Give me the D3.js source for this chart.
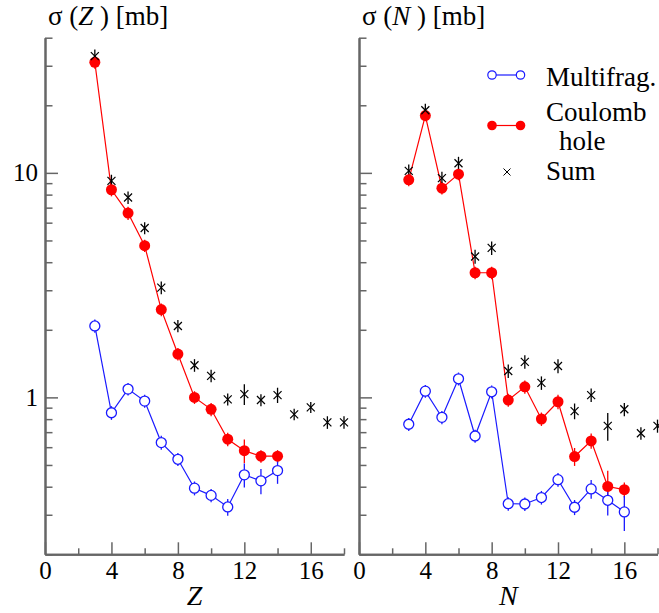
<!DOCTYPE html>
<html><head><meta charset="utf-8">
<script src="https://cdn.jsdelivr.net/npm/d3@7"></script>
<style>body{margin:0;background:#fff} svg{display:block}</style>
</head><body>
<svg id="c" width="659" height="613"></svg>
<script>
// ---- data ----
const zCats = [3,4,5,6,7,8,9,10,11,12,13,14];
const zMulti = [2.08,0.854,1.089,0.963,0.629,0.530,0.394,0.366,0.325,0.452,0.425,0.472];
const zMultiErr = [0.14,0.06,0.07,0.065,0.045,0.035,0.028,0.025,0.028,0.055,0.055,0.06];
const zCoul = [31.1,8.41,6.62,4.74,2.46,1.56,1.00,0.885,0.651,0.579,0.547,0.547];
const zCoulErr = [2.0,0.55,0.45,0.3,0.16,0.1,0.065,0.06,0.045,0.07,0.035,0.035];
const zSumCats = [3,4,5,6,7,8,9,10,11,12,13,14,15,16,17,18];
const zSum = [33.1,9.21,7.77,5.68,3.08,2.08,1.39,1.247,0.98,1.034,0.973,1.024,0.84,0.903,0.774,0.774];
const zSumErr = [2.3,0.6,0.5,0.35,0.2,0.13,0.09,0.08,0.06,0.11,0.06,0.08,0.05,0.05,0.05,0.05];

const nCats = [3,4,5,6,7,8,9,10,11,12,13,14,15,16];
const nMulti = [0.759,1.066,0.815,1.21,0.673,1.059,0.336,0.335,0.358,0.430,0.324,0.391,0.348,0.309];
const nMultiErr = [0.05,0.07,0.055,0.08,0.045,0.07,0.023,0.023,0.025,0.03,0.025,0.037,0.05,0.055];
const nCoul = [9.31,18.0,8.55,9.87,3.59,3.59,0.973,1.114,0.801,0.956,0.545,0.640,0.401,0.388];
const nCoulErr = [0.6,1.0,0.55,0.6,0.23,0.23,0.065,0.075,0.055,0.07,0.05,0.05,0.07,0.03];
const nSumCats = [3,4,5,6,7,8,9,10,11,12,13,14,15,16,17,18];
const nSum = [10.2,19.0,9.47,11.04,4.24,4.63,1.31,1.44,1.16,1.38,0.869,1.024,0.746,0.885,0.692,0.746];
const nSumErr = [0.7,1.3,0.65,0.75,0.3,0.32,0.09,0.1,0.08,0.1,0.07,0.07,0.105,0.06,0.045,0.05];

const xMajor = [0,4,8,12,16];
const xMinor = [2,6,10,14,18];
const yMajor = [1,10];
const yMinor = [0.2,0.3,0.4,0.5,0.6,0.7,0.8,0.9,2,3,4,5,6,7,8,9,20,30,40];

const legendLabels = ["Multifrag.", "Coulomb", "hole", "Sum"];

// ---- drawing ----
const svg = d3.select("#c");
const FONT = "'Liberation Serif','Times New Roman',serif";
const AXC = "#666";
const BLUE = "#1a1aff", RED = "#ff0000";

const y = d3.scaleLog().domain([0.2, 40]).range([554.3, 37.7]);

function styleAxis(g){
  g.selectAll("path.domain").attr("stroke", AXC).attr("stroke-width", 2);
  g.selectAll(".tick line").attr("stroke", AXC).attr("stroke-width", 1.5);
  g.selectAll(".tick text").attr("font-family", FONT).attr("font-size", 25).attr("fill", "#000");
}

function panel(x0, x1, cats, multi, multiErr, coul, coulErr, sumCats, sum, sumErr, varName, showYLabels){
  const x = d3.scaleLinear().domain([0, 18]).range([x0, x1]);
  const g = svg.append("g");
  const yAxisX = x(0);

  g.append("g").attr("transform", `translate(${yAxisX},0)`)
    .call(d3.axisLeft(y).tickValues(yMinor).tickSizeInner(-7.5).tickSizeOuter(0).tickFormat(""))
    .call(styleAxis);
  g.append("g").attr("transform", `translate(${yAxisX},0)`)
    .call(d3.axisLeft(y).tickValues(yMajor).tickSizeInner(-13).tickSizeOuter(0).tickPadding(7)
      .tickFormat(d => showYLabels ? d3.format("d")(d) : ""))
    .call(styleAxis);
  g.append("g").attr("transform", `translate(0,${y(0.2)})`)
    .call(d3.axisBottom(x).tickValues(xMinor).tickSizeInner(-6).tickSizeOuter(0).tickFormat(""))
    .call(styleAxis);
  g.append("g").attr("transform", `translate(0,${y(0.2)})`)
    .call(d3.axisBottom(x).tickValues(xMajor).tickSizeInner(-12).tickSizeOuter(0).tickPadding(7).tickFormat(d3.format("d")))
    .call(styleAxis);

  // title
  const t = g.append("text").attr("x", x0 + 3).attr("y", 25)
    .attr("font-family", FONT).attr("font-size", 27).attr("fill", "#000").attr("xml:space", "preserve");
  t.append("tspan").text("σ (");
  t.append("tspan").attr("font-style", "italic").text(varName);
  t.append("tspan").text(" ) [mb]");

  g.append("text").attr("x", x(9)).attr("y", 605).attr("text-anchor", "middle")
    .attr("font-family", FONT).attr("font-style", "italic").attr("font-size", 28).text(varName);

  const line = d3.line().x(d => x(d[0])).y(d => y(d[1]));

  g.append("path").datum(cats.map((c, i) => [c, multi[i]]))
    .attr("d", line).attr("fill", "none").attr("stroke", BLUE).attr("stroke-width", 1.2);
  g.append("path").datum(cats.map((c, i) => [c, coul[i]]))
    .attr("d", line).attr("fill", "none").attr("stroke", RED).attr("stroke-width", 1.2);

  function errBars(cs, vals, errs, color){
    g.append("g").selectAll("line").data(cs).join("line")
      .attr("x1", d => x(d)).attr("x2", d => x(d))
      .attr("y1", (d, i) => y(vals[i] + errs[i]))
      .attr("y2", (d, i) => y(Math.max(vals[i] - errs[i], 0.01)))
      .attr("stroke", color).attr("stroke-width", 1.3);
  }
  errBars(cats, coul, coulErr, RED);
  errBars(cats, multi, multiErr, BLUE);
  errBars(sumCats, sum, sumErr, "#000");

  g.append("g").selectAll("circle").data(cats).join("circle")
    .attr("cx", d => x(d)).attr("cy", (d, i) => y(coul[i])).attr("r", 5.5)
    .attr("fill", RED);
  g.append("g").selectAll("circle").data(cats).join("circle")
    .attr("cx", d => x(d)).attr("cy", (d, i) => y(multi[i])).attr("r", 5)
    .attr("fill", "#fff").attr("stroke", BLUE).attr("stroke-width", 1.3);
  g.append("g").selectAll("path").data(sumCats).join("path")
    .attr("transform", (d, i) => `translate(${x(d)},${y(sum[i])})`)
    .attr("d", "M-4,-4L4,4M-4,4L4,-4").attr("stroke", "#000").attr("stroke-width", 1.2).attr("fill", "none");
}

panel(45, 344, zCats, zMulti, zMultiErr, zCoul, zCoulErr, zSumCats, zSum, zSumErr, "Z", true);
panel(359, 657.5, nCats, nMulti, nMultiErr, nCoul, nCoulErr, nSumCats, nSum, nSumErr, "N", false);

// ---- legend ----
const lg = svg.append("g");
lg.append("line").attr("x1", 492).attr("x2", 520.5).attr("y1", 75).attr("y2", 75).attr("stroke", BLUE).attr("stroke-width", 1.2);
[492, 520.5].forEach(cx => lg.append("circle").attr("cx", cx).attr("cy", 75).attr("r", 4.2)
  .attr("fill", "#fff").attr("stroke", BLUE).attr("stroke-width", 1.2));
lg.append("line").attr("x1", 492).attr("x2", 520.5).attr("y1", 125.5).attr("y2", 125.5).attr("stroke", RED).attr("stroke-width", 1.2);
[492, 520.5].forEach(cx => lg.append("circle").attr("cx", cx).attr("cy", 125.5).attr("r", 4.8).attr("fill", RED));
lg.append("path").attr("transform", "translate(507,172)").attr("d", "M-3.5,-3.5L3.5,3.5M-3.5,3.5L3.5,-3.5")
  .attr("stroke", "#000").attr("stroke-width", 1).attr("fill", "none");
const lt = [[546, 86, legendLabels[0]], [546, 121, legendLabels[1]], [559, 150, legendLabels[2]], [546, 180, legendLabels[3]]];
lt.forEach(([tx, ty, s]) => lg.append("text").attr("x", tx).attr("y", ty)
  .attr("font-family", FONT).attr("font-size", 27).attr("fill", "#000").text(s));
</script>
</body></html>
